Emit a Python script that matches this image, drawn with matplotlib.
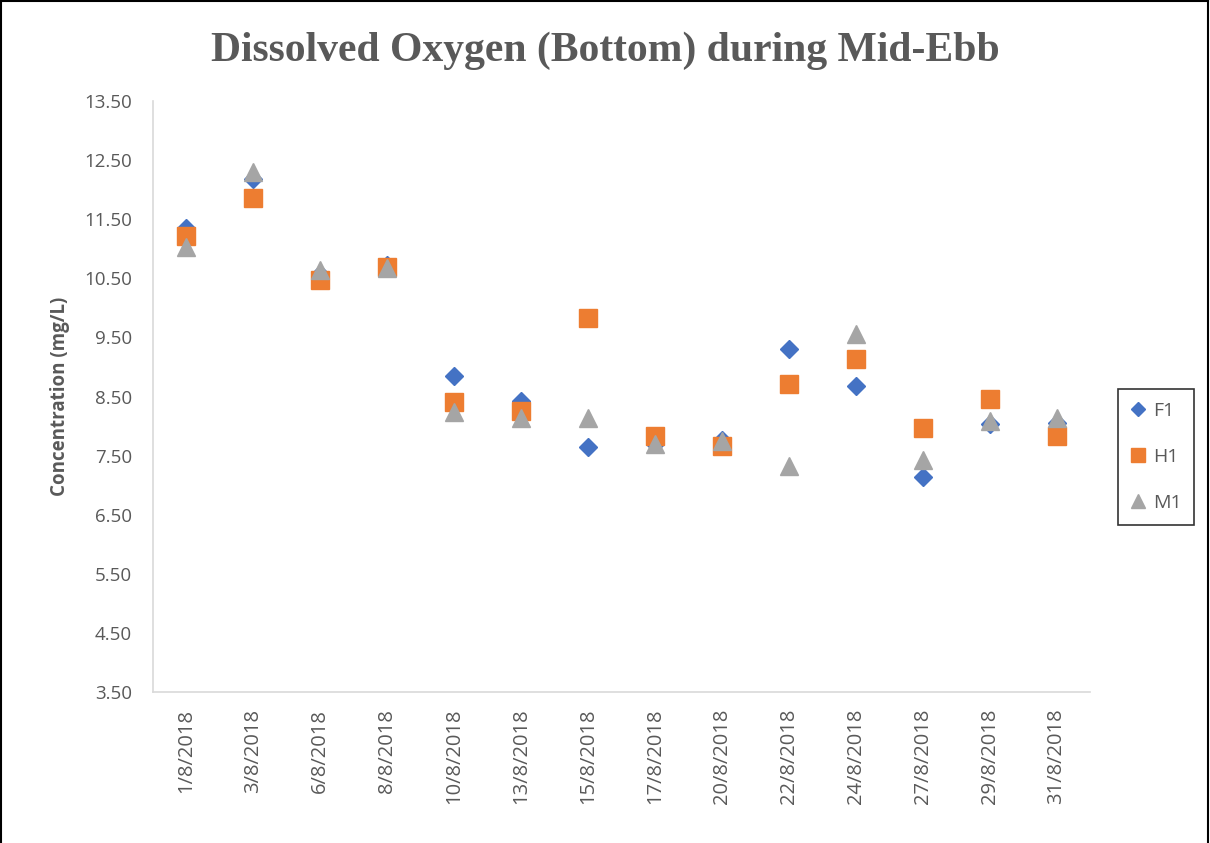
import matplotlib.pyplot as plt
from matplotlib.lines import Line2D
import numpy as np

dates = ['1/8/2018', '3/8/2018', '6/8/2018', '8/8/2018', '10/8/2018', '13/8/2018',
         '15/8/2018', '17/8/2018', '20/8/2018', '22/8/2018', '24/8/2018', '27/8/2018',
         '29/8/2018', '31/8/2018']
f1 = [11.35, 12.18, 10.57, 10.72, 8.84, 8.43, 7.64, 7.70, 7.76, 9.30, 8.67, 7.13, 8.04, 8.06]
h1 = [11.21, 11.86, 10.47, 10.69, 8.40, 8.26, 9.82, 7.84, 7.67, 8.72, 9.13, 7.96, 8.45, 7.84]
m1 = [11.03, 12.30, 10.64, 10.67, 8.23, 8.14, 8.13, 7.69, 7.75, 7.33, 9.55, 7.42, 8.08, 8.13]

text_color = '#595959'
plt.rcParams['font.family'] = ['Open Sans', 'DejaVu Sans']

fig = plt.figure(figsize=(12.1, 8.43), dpi=100)
ax = fig.add_axes([0.1264, 0.1791, 0.7744, 0.7011])

x = np.arange(len(dates))
ax.plot(x, f1, linestyle='none', marker='D', markersize=9.5, color='#4472C4', label='F1')
ax.plot(x, h1, linestyle='none', marker='s', markersize=12.5, color='#ED7D31', label='H1')
ax.plot(x, m1, linestyle='none', marker='^', markersize=13, color='#A5A5A5', label='M1')

ax.set_xlim(-0.5, len(dates) - 0.5)
ax.set_ylim(3.5, 13.5)
yt = np.arange(3.5, 13.51, 1.0)
ax.set_yticks(yt)
ax.set_yticklabels([f'{v:.2f}' for v in yt], fontsize=13.5, color=text_color)
ax.set_xticks(x)
ax.set_xticklabels(dates, rotation=90, fontsize=14.5, color=text_color)
ax.tick_params(axis='both', length=0)
ax.tick_params(axis='x', pad=12)
ax.tick_params(axis='y', pad=15)

for side in ['top', 'right']:
    ax.spines[side].set_visible(False)
for side in ['left', 'bottom']:
    ax.spines[side].set_color('#d9d9d9')
    ax.spines[side].set_linewidth(1.2)

ax.set_ylabel('Concentration (mg/L)', fontsize=13.5, fontweight='bold', color=text_color, labelpad=10)

fig.text(0.5, 0.94, 'Dissolved Oxygen (Bottom) during Mid-Ebb', ha='center', va='center',
         fontsize=30, fontweight='bold', color=text_color, family='Liberation Serif')

leg = ax.legend(loc='center left', bbox_to_anchor=(1.03, 0.398), fontsize=14, frameon=True,
                fancybox=False, edgecolor='black', labelspacing=1.45, handlelength=0.8,
                handletextpad=0.35, borderpad=0.65, borderaxespad=0)
leg.get_frame().set_linewidth(1.2)
for t in leg.get_texts():
    t.set_color(text_color)
for h in leg.legend_handles:
    h.set_markersize(h.get_markersize() * 0.75)

# outer border (left, top, right)
fig.add_artist(Line2D([0.001, 0.001], [0, 0.999], color='black', lw=1.5, transform=fig.transFigure))
fig.add_artist(Line2D([0.001, 0.998], [0.999, 0.999], color='black', lw=1.5, transform=fig.transFigure))
fig.add_artist(Line2D([0.998, 0.998], [0, 0.999], color='black', lw=1.5, transform=fig.transFigure))

fig.savefig('out.png', dpi=100)
